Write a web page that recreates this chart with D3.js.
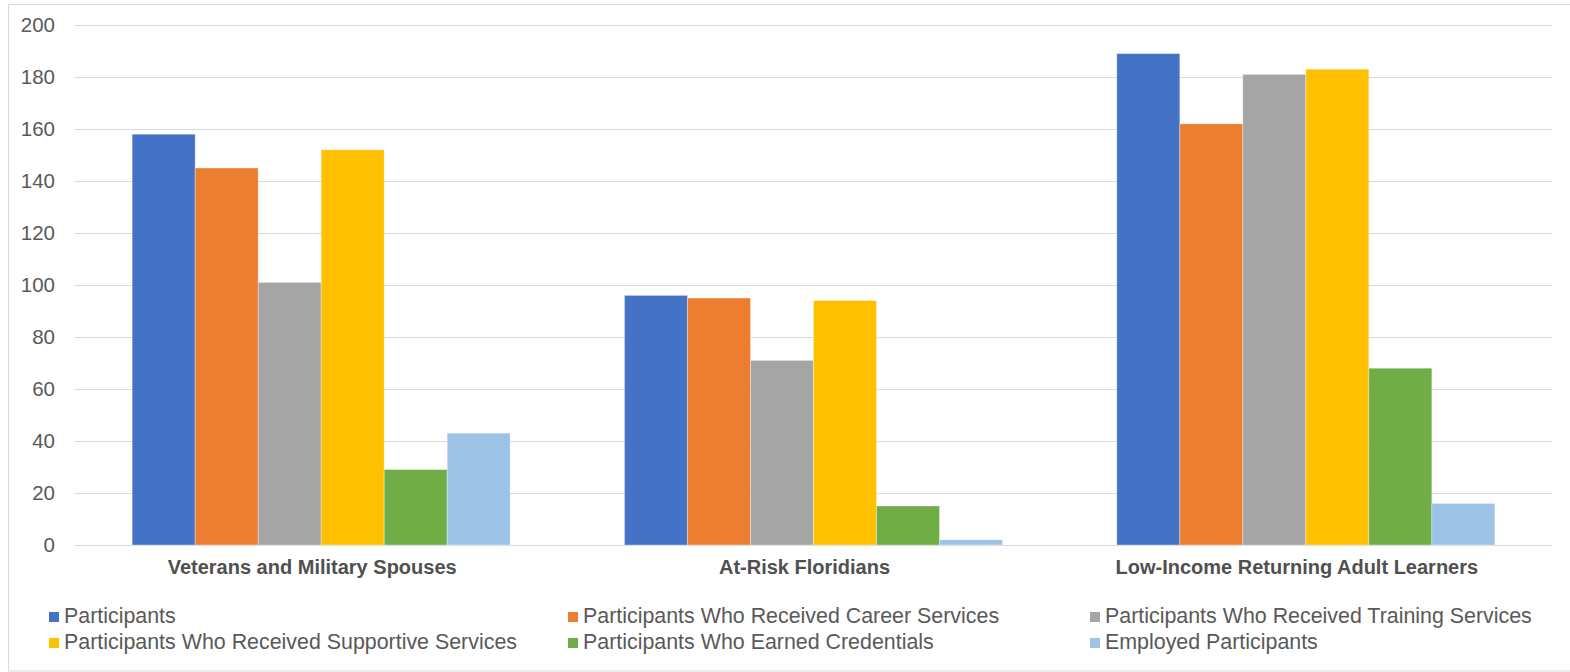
<!DOCTYPE html>
<html>
<head>
<meta charset="utf-8">
<script src="https://cdn.jsdelivr.net/npm/d3@7"></script>
<style>
  html, body { margin: 0; padding: 0; background: #ffffff; }
  svg { display: block; font-family: "Liberation Sans", Arial, sans-serif; }
</style>
</head>
<body>
<svg id="chart" width="1570" height="672"></svg>
<script>
// Program groups along the x axis
const categories = [
  "Veterans and Military Spouses",
  "At-Risk Floridians",
  "Low-Income Returning Adult Learners"
];

// Series names (legend order)
const seriesNames = [
  "Participants",
  "Participants Who Received Career Services",
  "Participants Who Received Training Services",
  "Participants Who Received Supportive Services",
  "Participants Who Earned Credentials",
  "Employed Participants"
];

// Values per series, one entry per category
const participants = [158, 96, 189];
const careerServices = [145, 95, 162];
const trainingServices = [101, 71, 181];
const supportiveServices = [152, 94, 183];
const earnedCredentials = [29, 15, 68];
const employed = [43, 2, 16];

const seriesValues = [participants, careerServices, trainingServices,
                      supportiveServices, earnedCredentials, employed];

const seriesColors = ["#4472C4", "#ED7D31", "#A5A5A5", "#FFC000", "#70AD47", "#9DC3E6"];

const yTicks = [0, 20, 40, 60, 80, 100, 120, 140, 160, 180, 200];

const svg = d3.select("#chart");

// Outer chart frame
svg.append("rect")
  .attr("x", 8.5).attr("y", 4.5)
  .attr("width", 1562).attr("height", 666.5)
  .attr("fill", "#ffffff")
  .attr("stroke", "#d9d9d9")
  .attr("stroke-width", 1);

const plot = { left: 75, right: 1552, top: 25, bottom: 545 };

const x0 = d3.scaleBand()
  .domain(categories)
  .range([plot.left, plot.right])
  .paddingInner(0).paddingOuter(0);

const x1 = d3.scaleBand()
  .domain(d3.range(seriesNames.length))
  .range([0, x0.bandwidth()])
  .paddingInner(0)
  .paddingOuter(0.907);

const y = d3.scaleLinear()
  .domain([0, 200])
  .range([plot.bottom, plot.top]);

// Horizontal gridlines
svg.append("g")
  .selectAll("line")
  .data(yTicks)
  .join("line")
  .attr("x1", plot.left).attr("x2", plot.right)
  .attr("y1", d => Math.round(y(d)) + 0.5)
  .attr("y2", d => Math.round(y(d)) + 0.5)
  .attr("stroke", "#d9d9d9")
  .attr("stroke-width", 1);

// Y axis labels
const yAxis = d3.axisLeft(y).tickValues(yTicks).tickSize(0).tickPadding(0);
const yAxisG = svg.append("g")
  .attr("transform", `translate(55,0)`)
  .call(yAxis);
yAxisG.select(".domain").remove();
yAxisG.selectAll("text")
  .attr("font-family", "'Liberation Sans', Arial, sans-serif")
  .attr("font-size", 20.5)
  .attr("fill", "#595959");

// Bars
const groups = svg.append("g")
  .selectAll("g")
  .data(categories)
  .join("g")
  .attr("transform", d => `translate(${x0(d)},0)`);

groups.selectAll("rect")
  .data((d, ci) => seriesValues.map((vals, si) => ({ si, v: vals[ci] })))
  .join("rect")
  .attr("x", d => x1(d.si))
  .attr("width", x1.bandwidth())
  .attr("y", d => y(d.v))
  .attr("height", d => y(0) - y(d.v))
  .attr("fill", d => seriesColors[d.si])
  .attr("stroke", "rgba(255,255,255,0.45)")
  .attr("stroke-width", 0.75);

// Category labels
const xAxis = d3.axisBottom(x0).tickSize(0).tickPadding(0);
const xAxisG = svg.append("g")
  .attr("transform", `translate(-9,${plot.bottom})`)
  .call(xAxis);
xAxisG.select(".domain").remove();
xAxisG.selectAll("text")
  .attr("dy", null)
  .attr("y", 29)
  .attr("font-family", "'Liberation Sans', Arial, sans-serif")
  .attr("font-size", 20)
  .attr("font-weight", "bold")
  .attr("fill", "#505050");

// Legend: three columns, two rows
const legendCols = [49, 568, 1090];
const legendRows = [612, 638];
const legend = svg.append("g")
  .selectAll("g")
  .data(seriesNames)
  .join("g")
  .attr("transform", (d, i) => `translate(${legendCols[i % 3]},${legendRows[Math.floor(i / 3)]})`);

legend.append("rect")
  .attr("width", 10).attr("height", 10)
  .attr("fill", (d, i) => seriesColors[i]);

legend.append("text")
  .attr("x", 15)
  .attr("y", 11)
  .attr("font-size", 21.4)
  .attr("fill", "#595959")
  .text(d => d);
</script>
</body>
</html>
